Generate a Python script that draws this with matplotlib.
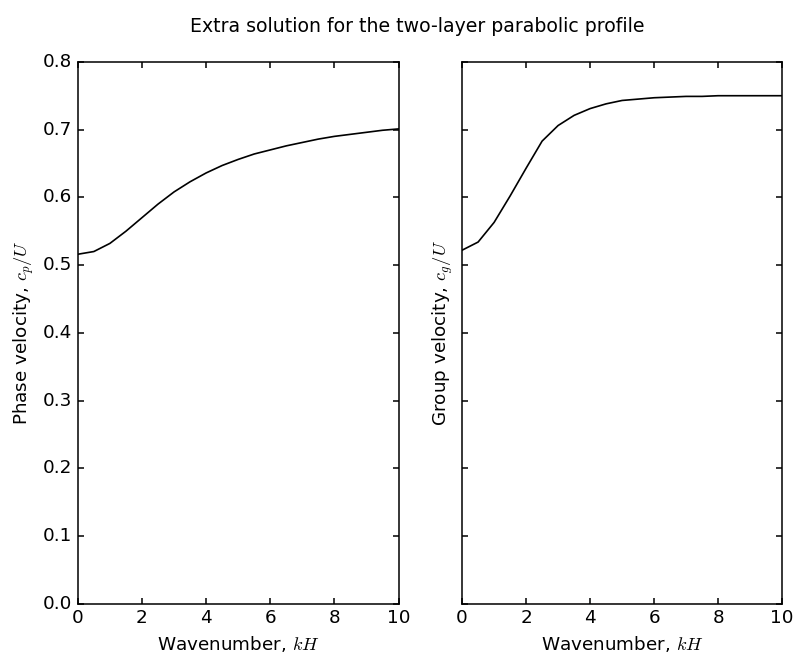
import numpy as np
import matplotlib
matplotlib.use('Agg')
import matplotlib.pyplot as plt

plt.style.use('classic')
plt.rcParams['font.size'] = 13.2

# wavenumber samples kH
kH = [0.0, 0.5, 1.0, 1.5, 2.0, 2.5, 3.0, 3.5, 4.0, 4.5, 5.0,
      5.5, 6.0, 6.5, 7.0, 7.5, 8.0, 8.5, 9.0, 9.5, 10.0]
# phase velocity c_p/U
cp = [0.516, 0.520, 0.532, 0.550, 0.570, 0.590, 0.608, 0.623, 0.636, 0.647, 0.656,
      0.664, 0.670, 0.676, 0.681, 0.686, 0.690, 0.693, 0.696, 0.699, 0.701]
# group velocity c_g/U
cg = [0.522, 0.534, 0.563, 0.602, 0.643, 0.683, 0.706, 0.721, 0.731, 0.738, 0.743,
      0.745, 0.747, 0.748, 0.749, 0.749, 0.750, 0.750, 0.750, 0.750, 0.750]
# second (decaying) solution in the group-velocity panel
zero_line = [0.0] * len(kH)

fig = plt.figure(figsize=(7.94, 6.65), dpi=100, facecolor='white')
ax1 = fig.add_axes([0.098, 0.092, 0.404, 0.815])
ax2 = fig.add_axes([0.582, 0.092, 0.403, 0.815], sharey=ax1)

ax1.plot(kH, cp, color='black', linewidth=1.2)
ax1.set_xlim(0, 10)
ax1.set_ylim(0, 0.8)
ax1.set_xlabel(r'Wavenumber, $kH$')
ax1.set_ylabel(r'Phase velocity, $c_p/U$')

ax2.plot(kH, cg, color='black', linewidth=1.2)
ax2.plot(kH, zero_line, color='#b03030', linewidth=0.8)
ax2.set_xlim(0, 10)
ax2.set_xlabel(r'Wavenumber, $kH$')
ax2.set_ylabel(r'Group velocity, $c_g/U$')
plt.setp(ax2.get_yticklabels(), visible=False)

for ax in (ax1, ax2):
    ax.tick_params(width=1.1)
    for s in ax.spines.values():
        s.set_linewidth(1.1)

fig.suptitle('Extra solution for the two-layer parabolic profile', x=0.525, y=0.975, fontsize=13.6)

plt.savefig('out.png', dpi=100, facecolor='white')
